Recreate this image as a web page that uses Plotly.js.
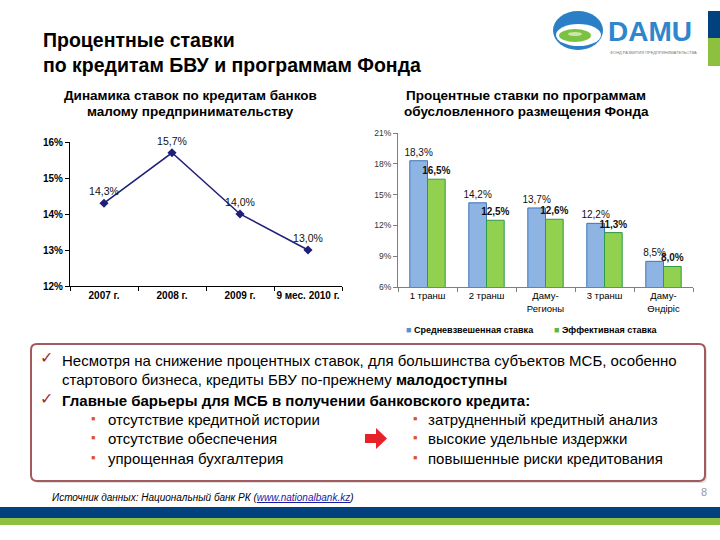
<!DOCTYPE html>
<html><head><meta charset="utf-8">
<script src="https://cdn.plot.ly/plotly-3.0.1.min.js"></script>
<style>html,body{margin:0;padding:0;background:#fff}#chart{width:720px;height:540px}</style>
</head><body><div id="chart"></div>
<script>
// ---- data ----
const years = ['2007 г.', '2008 г.', '2009 г.', '9 мес. 2010 г.'];
const bankRates = [14.3, 15.7, 14.0, 13.0];
const programs = ['1 транш', '2 транш', 'Даму-<br>Регионы', '3 транш', 'Даму-<br>Өндіріс'];
const avgRate = [18.3, 14.2, 13.7, 12.2, 8.5];
const effRate = [16.5, 12.5, 12.6, 11.3, 8.0];
const leftTicks = [12, 13, 14, 15, 16];
const rightTicks = [6, 9, 12, 15, 18, 21];

// ---- helpers (pixel -> paper) ----
const W = 720, H = 540;
const px = x => x / W;
const py = y => 1 - y / H;
const F = 'Liberation Sans, Arial, sans-serif';

function rectShape(x0, y0, x1, y1, fill, line) {
  return {type: 'rect', xref: 'paper', yref: 'paper', x0: px(x0), x1: px(x1), y0: py(y1), y1: py(y0),
    fillcolor: fill, line: line || {width: 0}, layer: 'below'};
}
function ellShape(x0, y0, x1, y1, fill) {
  return {type: 'circle', xref: 'paper', yref: 'paper', x0: px(x0), x1: px(x1), y0: py(y1), y1: py(y0),
    fillcolor: fill, line: {width: 0}, layer: 'above'};
}
function roundRectPath(x0, y0, x1, y1, r) {
  const P = (x, y) => px(x) + ',' + py(y);
  return 'M' + P(x0 + r, y0) + ' L' + P(x1 - r, y0) + ' Q' + P(x1, y0) + ' ' + P(x1, y0 + r) +
    ' L' + P(x1, y1 - r) + ' Q' + P(x1, y1) + ' ' + P(x1 - r, y1) +
    ' L' + P(x0 + r, y1) + ' Q' + P(x0, y1) + ' ' + P(x0, y1 - r) +
    ' L' + P(x0, y0 + r) + ' Q' + P(x0, y0) + ' ' + P(x0 + r, y0) + ' Z';
}
function polyPath(pts) {
  return 'M' + pts.map(p => px(p[0]) + ',' + py(p[1])).join(' L') + ' Z';
}
function txt(x, y, text, size, opts) {
  opts = opts || {};
  return Object.assign({xref: 'paper', yref: 'paper', x: px(x), y: py(y), text: text, showarrow: false,
    xanchor: 'left', yanchor: 'middle', font: {family: F, size: size, color: opts.color || '#000'}}, opts.extra || {});
}

const traces = [
  {type: 'scatter', mode: 'lines+markers+text', x: years, y: bankRates, xaxis: 'x', yaxis: 'y',
   name: 'Ставки БВУ', line: {color: '#1f1f78', width: 1.5},
   marker: {symbol: 'diamond', size: 7, color: '#1f1f78'},
   texttemplate: '%{y:.1f}%', textposition: 'top center',
   textfont: {family: F, size: 10.5, color: '#111'}, cliponaxis: false, showlegend: false},
  {type: 'bar', x: programs, y: avgRate, xaxis: 'x2', yaxis: 'y2', name: 'Средневзвешенная ставка',
   marker: {color: '#8eb4e3', line: {color: '#3f74b5', width: 1}},
   texttemplate: '%{y:.1f}%', textposition: 'outside', cliponaxis: false, constraintext: 'none',
   textfont: {family: F, size: 10, color: '#111'}, showlegend: false},
  {type: 'bar', x: programs, y: effRate, xaxis: 'x2', yaxis: 'y2', name: 'Эффективная ставка',
   marker: {color: '#92d050', line: {color: '#2f9a48', width: 1}},
   texttemplate: '<b>%{y:.1f}%</b>', textposition: 'outside', cliponaxis: false, constraintext: 'none',
   textfont: {family: F, size: 10, color: '#111'}, showlegend: false}
];

const shapes = [
  // box shadow and box
  {type: 'path', xref: 'paper', yref: 'paper', path: roundRectPath(33, 346, 707, 483, 6),
   fillcolor: 'rgba(0,0,0,0.12)', line: {width: 0}, layer: 'below'},
  {type: 'path', xref: 'paper', yref: 'paper', path: roundRectPath(31, 344, 705, 481, 6),
   fillcolor: '#ffffff', line: {color: '#a35a5c', width: 2}, layer: 'below'},
  // arrow
  {type: 'path', xref: 'paper', yref: 'paper',
   path: polyPath([[365, 434], [376, 434], [376, 428], [387, 438.5], [376, 449], [376, 443], [365, 443]]),
   fillcolor: '#e8202a', line: {width: 0}},
  // bottom bands
  rectShape(0, 507, 720, 518, '#00417e'),
  rectShape(0, 518, 720, 525, '#8dc03f'),
  // logo side bar
  rectShape(708, 11, 720, 38, '#00417e'),
  rectShape(708, 38, 720, 66, '#8dc03f'),
  // logo emblem
  ellShape(553, 11, 603, 50, '#2a7fc6'),
  ellShape(556, 24, 601, 46, '#ffffff'),
  ellShape(559, 29, 591, 42, '#7cc242'),
  ellShape(568, 32, 582, 36, '#c9e6a8')
];

const annotations = [
  // main title
  txt(41, 40, '<b>Процентные ставки</b>', 19.5),
  txt(41, 65, '<b>по кредитам БВУ и программам Фонда</b>', 19.5),
  // logo text
  txt(606, 32, '<b>DAMU</b>', 28, {color: '#2f86cc'}),
  txt(608, 52, 'ФОНД РАЗВИТИЯ ПРЕДПРИНИМАТЕЛЬСТВА', 4, {color: '#777'}),
  // chart titles
  txt(190, 95, '<b>Динамика ставок по кредитам банков</b>', 13.5, {extra: {xanchor: 'center'}}),
  txt(190, 112, '<b>малому предпринимательству</b>', 13.5, {extra: {xanchor: 'center'}}),
  txt(526, 95, '<b>Процентные ставки по программам</b>', 13.5, {extra: {xanchor: 'center'}}),
  txt(526, 112, '<b>обусловленного размещения Фонда</b>', 13.5, {extra: {xanchor: 'center'}}),
  // legend (bar colours)
  txt(404, 330, '<span style="color:#5b8fd0">■</span> <b>Средневзвешенная ставка</b>', 9),
  txt(552, 330, '<span style="color:#5cb83a">■</span> <b>Эффективная ставка</b>', 9),
  // box text
  txt(38, 357, '✓', 16, {color: '#9b2d30'}),
  txt(60, 360, 'Несмотря на снижение процентных ставок, для большинства субъектов МСБ, особенно', 15),
  txt(60, 379, 'стартового бизнеса, кредиты БВУ по-прежнему <b>малодоступны</b>', 15),
  txt(38, 398, '✓', 16, {color: '#9b2d30'}),
  txt(60, 400, '<b>Главные барьеры для МСБ в получении банковского кредита:</b>', 15),
  txt(89, 418, '▪', 13, {color: '#e0521e'}),
  txt(106, 419, 'отсутствие кредитной истории', 15),
  txt(89, 437, '▪', 13, {color: '#e0521e'}),
  txt(106, 438, 'отсутствие обеспечения', 15),
  txt(89, 457, '▪', 13, {color: '#e0521e'}),
  txt(106, 458, 'упрощенная бухгалтерия', 15),
  txt(411, 418, '▪', 13, {color: '#e0521e'}),
  txt(426, 419, 'затрудненный кредитный анализ', 15),
  txt(411, 437, '▪', 13, {color: '#e0521e'}),
  txt(426, 438, 'высокие удельные издержки', 15),
  txt(411, 457, '▪', 13, {color: '#e0521e'}),
  txt(426, 458, 'повышенные риски кредитования', 15),
  // footer
  txt(50, 497, '<i>Источник данных: Национальный банк РК (<span style="color:#1a1aa8"><u>www.nationalbank.kz</u></span>)</i>', 10),
  txt(709, 492, '8', 11, {color: '#999', extra: {xanchor: 'right'}})
];

const layout = {
  width: 720, height: 540, margin: {l: 0, r: 0, t: 0, b: 0},
  paper_bgcolor: '#fff', plot_bgcolor: 'rgba(0,0,0,0)',
  separators: ', ', showlegend: false,
  font: {family: F, size: 9, color: '#000'},
  barmode: 'group', bargap: 0.4, bargroupgap: 0,
  xaxis: {domain: [px(70), px(342)], anchor: 'y', type: 'category', tickson: 'boundaries',
    range: [-0.5, years.length - 0.5], autorange: false, tickangle: 0,
    ticks: 'outside', ticklen: 4, tickcolor: '#000', showline: true, linecolor: '#000', linewidth: 1,
    showgrid: false, zeroline: false, fixedrange: true,
    tickfont: {family: F, size: 10, weight: 'bold', color: '#000'}},
  yaxis: {domain: [py(286), py(142)], anchor: 'x', range: [12, 16], tickvals: leftTicks,
    ticktext: leftTicks.map(v => v + '%'), ticks: 'outside', ticklen: 4, tickcolor: '#000',
    showline: true, linecolor: '#000', linewidth: 1, showgrid: false, zeroline: false,
    tickfont: {family: F, size: 10, weight: 'bold', color: '#000'}},
  xaxis2: {domain: [px(398), px(693)], anchor: 'y2', type: 'category', tickson: 'boundaries',
    range: [-0.5, programs.length - 0.5], autorange: false, tickangle: 0,
    ticks: 'outside', ticklen: 4, tickcolor: '#7f7f7f', showline: true, linecolor: '#7f7f7f', linewidth: 1,
    showgrid: false, zeroline: false, tickfont: {family: F, size: 9.5, color: '#000'}},
  yaxis2: {domain: [py(287), py(133)], anchor: 'x2', range: [6, 21], tickvals: rightTicks,
    ticktext: rightTicks.map(v => v + '%'), ticks: 'outside', ticklen: 4, tickcolor: '#7f7f7f',
    showline: true, linecolor: '#7f7f7f', linewidth: 1, showgrid: false, zeroline: false,
    tickfont: {family: F, size: 8.5, color: '#333'}},
  shapes: shapes,
  annotations: annotations
};

Plotly.newPlot('chart', traces, layout, {displayModeBar: false, staticPlot: true});
</script>
</body></html>
